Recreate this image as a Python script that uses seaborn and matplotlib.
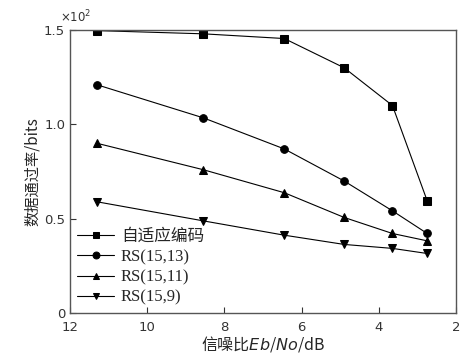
import matplotlib
matplotlib.use('Agg')
import matplotlib.pyplot as plt
import seaborn as sns
import pandas as pd

# Eb/No (dB), throughput in units of 10^2 bits
snr = [11.3, 8.55, 6.45, 4.9, 3.65, 2.75]
adaptive = [1.497, 1.48, 1.455, 1.30, 1.10, 0.595]
rs_15_13 = [1.21, 1.035, 0.87, 0.70, 0.542, 0.422]
rs_15_11 = [0.90, 0.76, 0.638, 0.507, 0.422, 0.383]
rs_15_9 = [0.59, 0.489, 0.413, 0.364, 0.343, 0.316]

series_names = ['自适应编码', 'RS(15,13)', 'RS(15,11)', 'RS(15,9)']
series_markers = ['s', 'o', '^', 'v']

sns.set_style('ticks')
plt.rcParams['font.family'] = ['DejaVu Sans', 'Noto Sans CJK SC']

df = pd.concat([
    pd.DataFrame({'snr': snr, 'rate': vals, 'scheme': name})
    for name, vals in zip(series_names, [adaptive, rs_15_13, rs_15_11, rs_15_9])
])

fig = plt.figure(figsize=(4.65, 3.62), dpi=100)
ax = fig.add_axes([0.1505, 0.135, 0.8305, 0.782])

for name, mk in zip(series_names, series_markers):
    sub = df[df['scheme'] == name]
    sns.lineplot(data=sub, x='snr', y='rate', ax=ax, color='black', lw=0.8,
                 marker=mk, markersize=5.5, markeredgecolor='black', label=name)

ax.set_xlim(12, 2)
ax.set_ylim(0, 1.5)
ax.set_xticks([12, 10, 8, 6, 4, 2])
ax.set_yticks([0, 0.5, 1.0, 1.5])
ax.set_yticklabels(['0', '0.5', '1.0', '1.5'])
ax.tick_params(direction='in', length=4, width=0.8, labelsize=9.5, colors='#333333')
ax.tick_params(axis='x', pad=6)
for s in ax.spines.values():
    s.set_color('#555555')
    s.set_linewidth(1.0)

ax.text(-0.025, 1.015, r'$\times10^2$', transform=ax.transAxes, fontsize=8.5,
        color='#333333', ha='left', va='bottom')

ax.set_xlabel('信噪比$\\it{Eb}$/$\\it{No}$/dB', fontsize=11.5,
              family=['Noto Sans CJK SC', 'DejaVu Sans'], labelpad=0)
ax.set_ylabel('数据通过率/bits', fontsize=11,
              family=['Noto Sans CJK SC', 'DejaVu Sans'], labelpad=2)

ax.legend(loc='lower left', frameon=False, handlelength=2.2, handletextpad=0.4,
          labelspacing=0.25, borderaxespad=0.05, markerscale=0.9,
          prop={'family': ['Liberation Serif', 'Noto Sans CJK SC'], 'size': 12})

fig.savefig('out.png', dpi=100)
